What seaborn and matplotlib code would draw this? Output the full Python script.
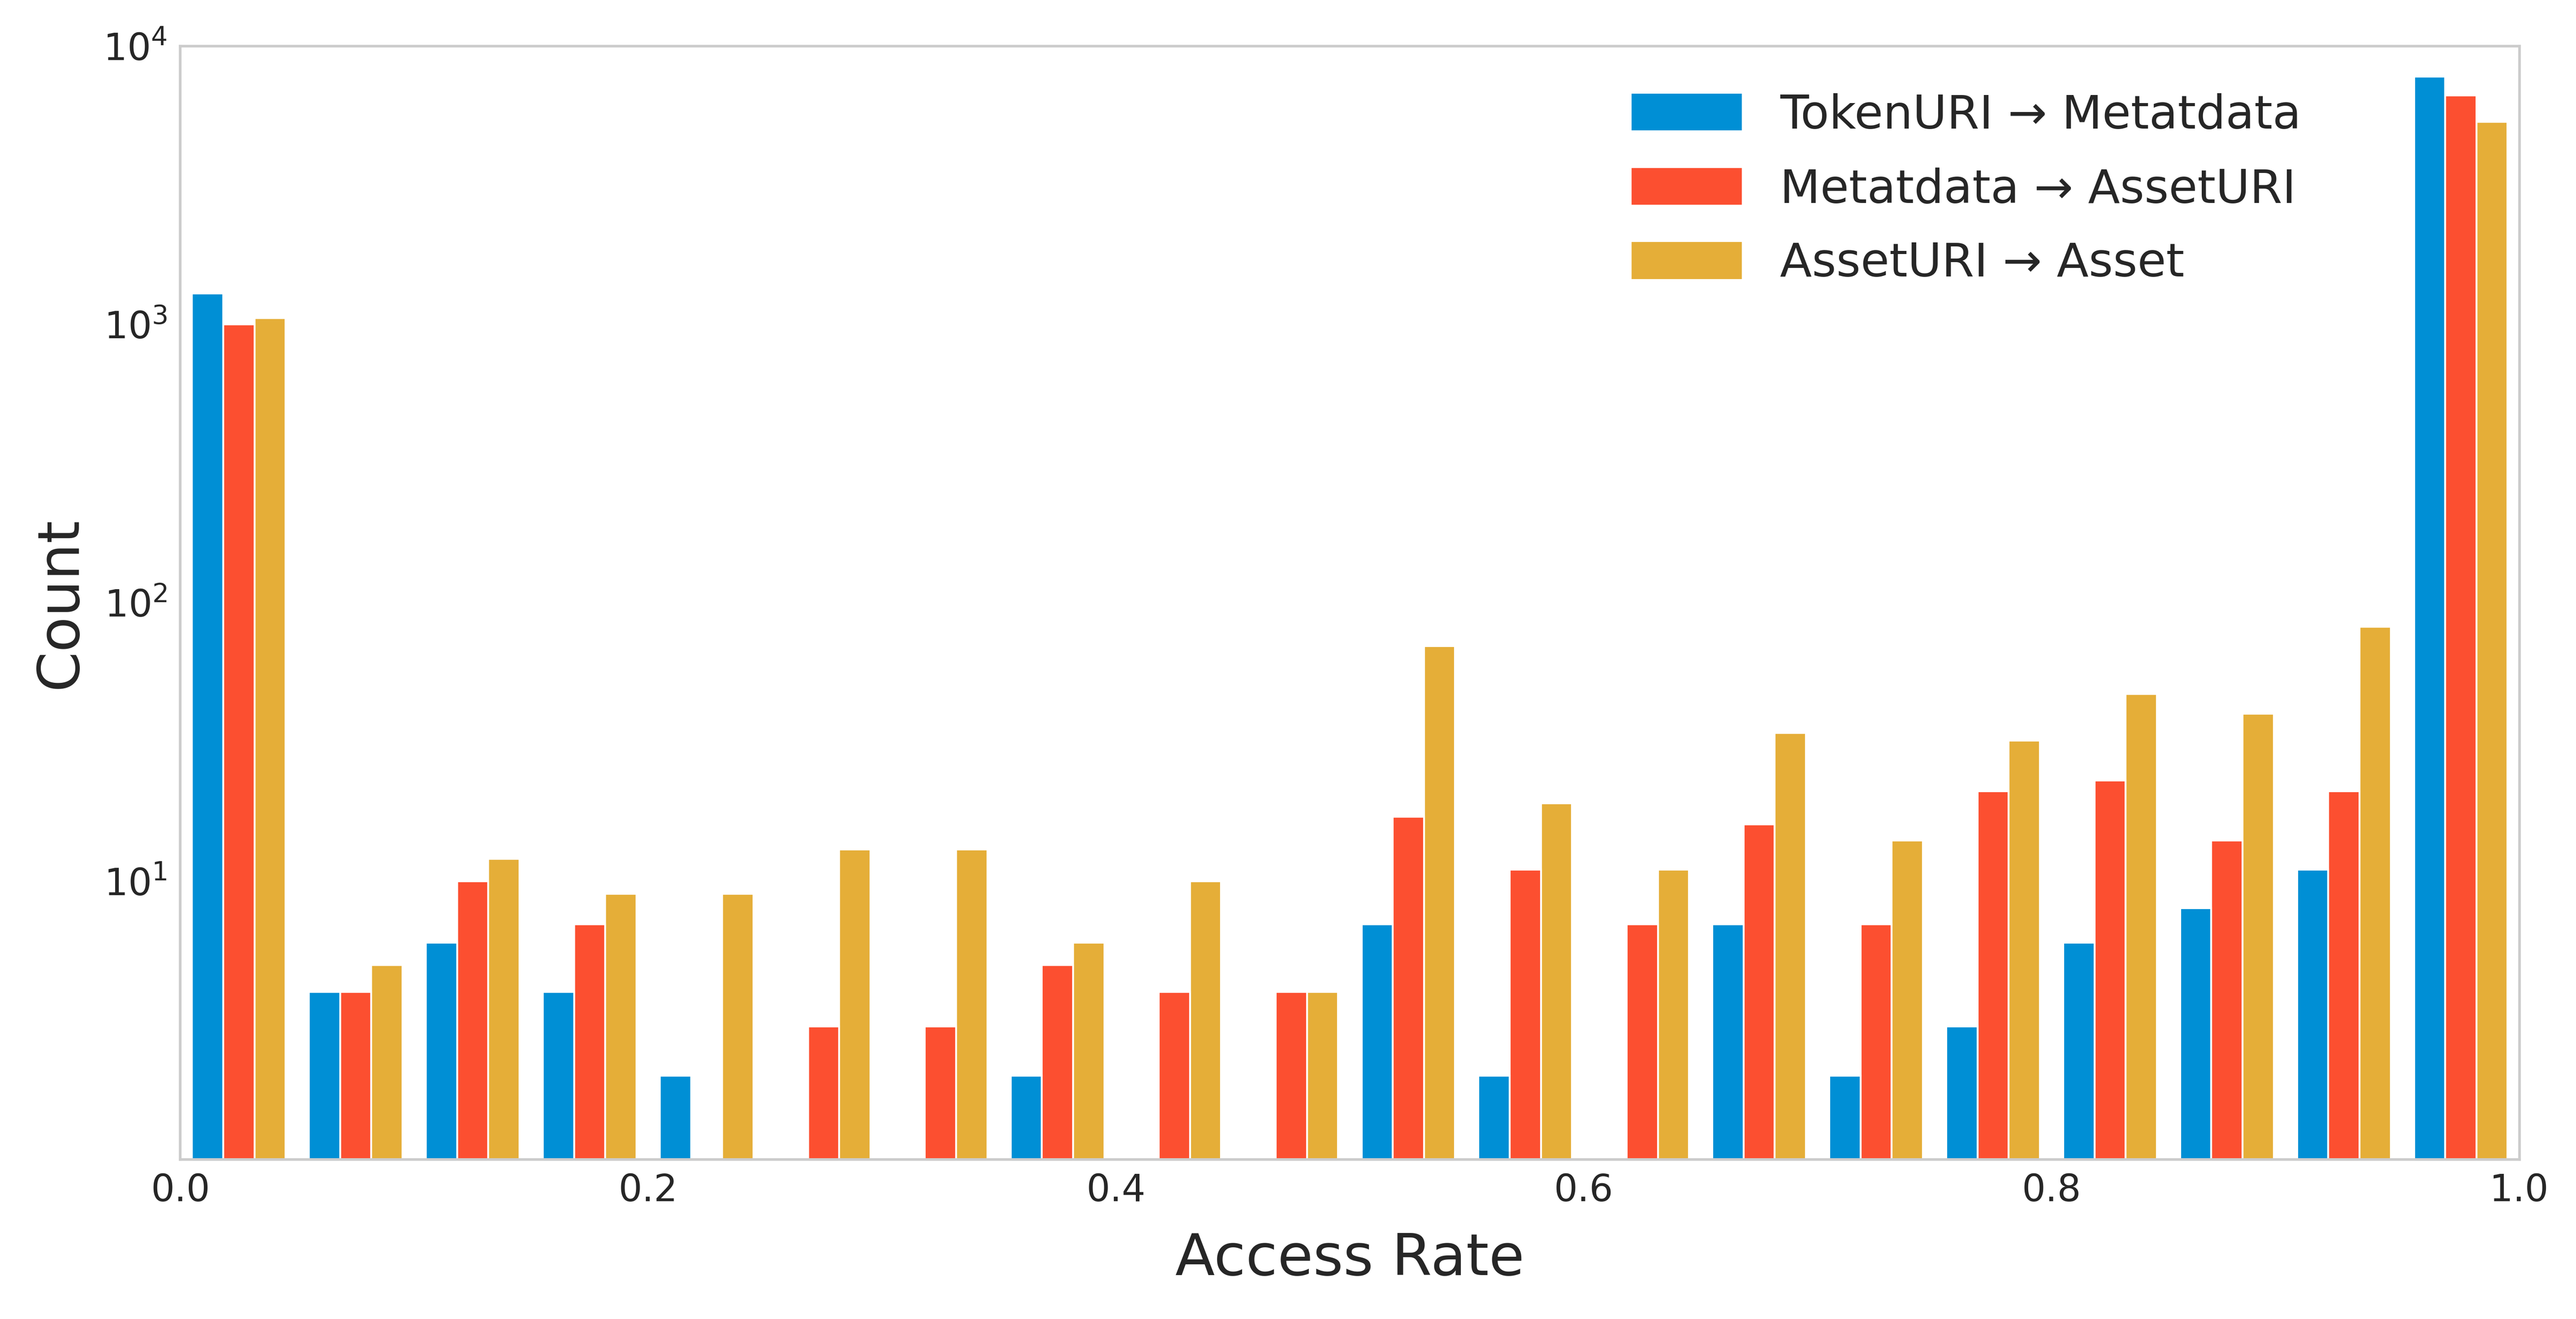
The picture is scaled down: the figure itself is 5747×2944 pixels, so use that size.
import numpy as np
import pandas as pd
import seaborn as sns
import matplotlib.pyplot as plt

# access-rate histogram counts, 20 bins of width 0.05 between 0 and 1
n_bins = 20
bin_edges = np.linspace(0, 1, n_bins + 1)
bin_centers = (bin_edges[:-1] + bin_edges[1:]) / 2

series_names = ["TokenURI → Metatdata", "Metatdata → AssetURI", "AssetURI → Asset"]
token_to_meta = [1291, 4, 6, 4, 2, 0, 0, 2, 0, 0, 7, 2, 0, 7, 2, 3, 6, 8, 11, 7770]
meta_to_asseturi = [1000, 4, 10, 7, 0, 3, 3, 5, 4, 4, 17, 11, 7, 16, 7, 21, 23, 14, 21, 6655]
asseturi_to_asset = [1053, 5, 12, 9, 9, 13, 13, 6, 10, 4, 70, 19, 11, 34, 14, 32, 47, 40, 82, 5345]
colors = ["#008fd5", "#fc4f30", "#e5ae38"]

# long format table, one row per bin and series, weighted by the count
frames = []
for name, counts in zip(series_names, [token_to_meta, meta_to_asseturi, asseturi_to_asset]):
    frames.append(pd.DataFrame({"rate": bin_centers, "count": counts, "link": name}))
df = pd.concat(frames, ignore_index=True)

sns.set_style("white")
fig, ax = plt.subplots(figsize=(5747 / 300, 2944 / 300), dpi=300)
fig.subplots_adjust(left=0.070, right=0.978, top=0.965, bottom=0.121)

sns.histplot(data=df, x="rate", weights="count", hue="link", hue_order=series_names,
             palette=colors, bins=n_bins, binrange=(0, 1), multiple="dodge", shrink=0.8,
             alpha=1, edgecolor="white", linewidth=1, ax=ax)

ax.set_yscale("log")
ax.set_xlim(0, 1)
ax.set_ylim(1, 1e4)
ax.set_yticks([1e1, 1e2, 1e3, 1e4])
ax.minorticks_off()
ax.tick_params(labelsize=20)
ax.set_xlabel("Access Rate", fontsize=31, labelpad=12)
ax.set_ylabel("Count", fontsize=31, labelpad=8)

for spine in ax.spines.values():
    spine.set_color(".8")
    spine.set_linewidth(1.4)

sns.move_legend(ax, "upper left", bbox_to_anchor=(0.612, 0.975), title=None,
                frameon=False, fontsize=25, labelspacing=0.62, borderaxespad=0,
                handlelength=2.4, handleheight=0.9, handletextpad=0.8)

plt.savefig("out.png", dpi=300)
